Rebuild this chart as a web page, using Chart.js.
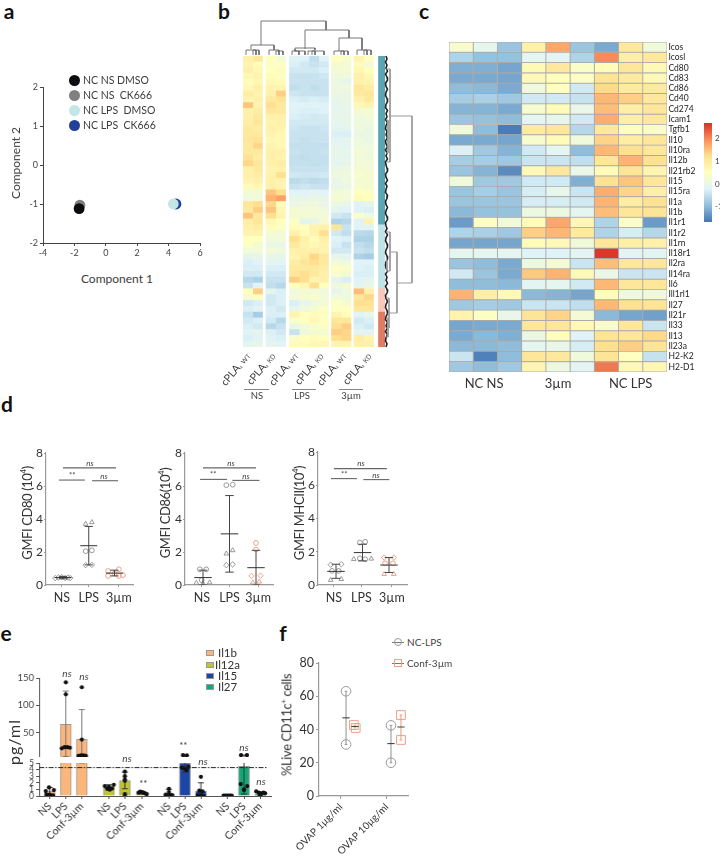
<!DOCTYPE html>
<html><head><meta charset="utf-8">
<style>
html,body{margin:0;padding:0;background:#fff;width:720px;height:857px;overflow:hidden}
#page{position:relative;width:720px;height:857px;overflow:hidden;font-family:Lato,"Open Sans",sans-serif;color:#3c3c3c;background:#fff;filter:blur(.35px)}
canvas{position:absolute;display:block}
.t{position:absolute;white-space:nowrap;line-height:1}
.s{font-size:62%}
</style>
<script src="https://cdn.jsdelivr.net/npm/chart.js@4/dist/chart.umd.min.js"></script>
</head><body><div id="page"></div>
<script>
/* ---------- DATA ---------- */
// panel a
const pcaLabels=['NC NS DMSO','NC NS  CK666','NC LPS  DMSO','NC LPS  CK666'];
const pcaColors=['#0b0b10','#808080','#c4e6e6','#22409a'];
const pcaX=[-1.7,-1.65,4.3,4.47];
const pcaY=[-1.12,-1.03,-1.0,-1.0];
// panel b : 12 sample columns per row (NS WT x2, NS KD x2, LPS x4, 3um WT x2, 3um KD x2)
const bRows=[
[1.0,1.3,.6,.2,-.3,-.35,-.7,-.3,.6,.4,.9,.5],
[.9,.7,.5,.5,-.4,-.5,-.6,-.5,.3,.2,.7,.2],
[1.0,.8,.6,.7,-.5,-.5,-.5,-.4,.2,.3,.8,.6],
[.8,.9,.7,.5,-.6,-.6,-.6,-.55,.1,.1,1.0,.8],
[.7,.8,.8,.7,-.6,-.6,-.6,-.6,.0,-.1,1.0,.9],
[.8,1.0,.9,.9,-.7,-.6,-.7,-.6,.05,.1,1.3,1.1],
[1.1,.9,1.0,1.7,-.55,-.6,-.6,-.6,.0,.0,1.2,1.3],
[.9,1.0,1.2,1.4,-.4,-.45,-.4,-.45,-.1,.0,1.0,1.2],
[1.8,.9,1.5,1.2,-.3,-.35,-.3,-.35,-.2,-.1,.8,.9],
[1.0,1.1,1.3,1.2,-.35,-.4,-.4,-.35,-.15,-.1,.3,.3],
[1.0,1.2,1.0,1.0,-.4,-.45,-.5,-.45,-.1,-.1,.1,.2],
[1.1,1.3,.9,1.0,-.5,-.5,-.5,-.5,-.15,-.1,.1,.1],
[1.2,1.1,1.0,.9,-.55,-.6,-.6,-.55,-.2,-.2,.1,.0],
[1.2,1.2,.9,.8,-.6,-.6,-.6,-.6,-.4,-.4,.0,.0],
[1.3,1.4,.8,.8,-.6,-.65,-.6,-.6,-.25,-.2,.1,.0],
[1.2,1.6,.9,.8,-.65,-.65,-.65,-.65,-.15,-.2,.1,.1],
[1.2,1.2,1.0,1.0,-.6,-.65,-.65,-.6,-.1,-.15,.2,.1],
[1.4,1.1,1.0,.9,-.65,-.7,-.65,-.65,-.15,-.15,.2,.15],
[1.6,1.3,1.0,1.1,-.65,-.65,-.7,-.65,-.15,-.1,.2,.2],
[1.0,1.2,.9,1.0,-.6,-.6,-.6,-.6,.0,.05,.3,.2],
[1.0,1.1,1.0,1.5,-.5,-.55,-.55,-.5,.1,.1,.4,.3],
[.9,1.0,1.0,.9,-.75,-.7,-.75,-.7,-.1,.1,.3,.3],
[.7,.8,1.0,.9,-.6,-.55,-.6,-.6,-.1,.0,.35,.3],
[.2,.2,1.8,1.5,-.3,-.3,-.25,-.3,.2,.2,.6,.5],
[.1,.2,2.0,2.2,-.1,-.1,.0,-.1,.3,.2,.7,.6],
[1.3,1.5,1.6,.7,.0,.1,.1,.0,.0,-.1,-.3,-.2],
[1.2,1.7,1.8,.8,.3,.2,.2,.1,-.2,-.3,-.35,-.4],
[1.8,1.2,1.5,.9,.3,.3,.2,.2,-.5,-.6,.4,.1],
[1.1,1.3,.8,.6,.5,-.2,-.1,.3,-.9,-.8,-.3,.9],
[1.0,1.1,.7,.5,.7,.6,.9,1.0,1.3,-.6,-.3,-.3],
[.9,.9,.3,.2,1.0,.7,.9,1.5,-.5,-.7,-.75,-.8],
[.6,.6,.1,.2,1.5,1.0,.7,1.0,-.3,-.4,-.9,-.9],
[.5,.3,.0,-.1,1.2,.9,.8,.9,-.4,-.6,-.7,-.8],
[.2,.2,.2,.1,1.0,1.0,1.0,.9,-.5,-.5,-.6,-.7],
[-.2,-.1,-.1,-.1,.9,1.1,1.6,1.2,-.1,-.2,-.9,-1.0],
[-.4,-.3,-.2,-.3,1.1,1.3,1.5,1.2,.2,.1,-.3,-.3],
[-.4,-.4,-.4,-.4,1.2,1.2,1.2,1.1,.5,.4,-.35,-.4],
[-.5,-.5,-.5,-.5,1.3,1.5,1.2,1.0,.4,.3,-.4,-.4],
[-.8,-.9,-.6,-.6,1.7,1.5,.9,1.0,-.2,-.4,-.3,-.2],
[-.6,-.3,-.7,-.8,.6,.8,1.5,.6,.1,.3,-.2,.0],
[.6,1.7,-.2,-.4,.1,.3,.2,.1,-.1,.1,1.9,1.0],
[.3,.5,-.5,-.4,.2,.3,.4,.2,.2,.1,1.3,1.6],
[-.5,-.4,-.5,-.4,-.4,-.1,.1,.2,.5,.3,1.5,1.4],
[-.4,-.3,-.4,-.5,-.1,.1,.3,.5,.5,.6,1.3,1.3],
[-.6,-1.0,-.4,-.4,.9,.6,.7,.5,.9,.7,-.3,-.1],
[-.5,-.4,-.5,-.8,.4,.6,.8,.6,1.3,1.3,-.5,-.4],
[-.4,-.5,-.8,-.6,.0,.2,.4,.5,1.5,1.7,-.4,-.5],
[-.3,-.2,-.4,-.5,-.6,.1,.3,.3,1.7,1.6,-.2,-.3],
[-.4,-.3,-.3,-.4,.4,.6,.7,.6,1.5,1.6,1.1,.9],
[-.2,-.1,-.2,-.3,.7,.7,.8,.8,.9,.9,1.0,1.0]];
const bClusterSizes=[29,11,4,6];
const bClusterColors=['#5ba6b4','#bfe3e6','#f8c9b8','#e07c62'];
const bColLabels=['WT','KD','WT','KD','WT','KD'];
const bGroupLabels=['NS','LPS','3µm'];
// panel b dendrograms, in page units
const colTree=[
[[261,45],[261,21],[326,21],[326,30]],
[[251,49],[251,45],[274,45],[274,50]],
[[246,55],[246,50],[256,50],[256,55]],
[[253,55],[253,50],[259,50],[259,55]],
[[269,55],[269,50],[279,50],[279,55]],
[[276,55],[276,51],[283,51],[283,55]],
[[305,49],[305,30],[349,30],[349,38]],
[[295,49],[295,48],[315,48],[315,50]],
[[292,55],[292,51],[299,51],[299,55]],
[[295,49],[295,51],[305,51],[305,55]],
[[308,55],[308,51],[315,51],[315,55]],
[[312,55],[312,51],[324,51],[324,55]],
[[339,51],[339,38],[362,38],[362,50]],
[[334,55],[334,51],[344,51],[344,55]],
[[341,55],[341,51],[348,51],[348,55]],
[[357,55],[357,50],[367,50],[367,55]],
[[364,55],[364,50],[371,50],[371,55]]];
const rowTree=[
[[390,116],[412,116],[412,283],[397,283]],
[[390,252],[397,252],[397,313],[389,313]],
[[386,69],[390,69],[390,162],[386,162]],
[[386,232],[390,232],[390,271],[386,271]],
[[386,298],[389,298],[389,328],[386,328]],
[[386,120],[388,120],[388,153],[386,153]],
[[386,260],[387,260],[387,271],[386,271]],
[[386,318],[388,318],[388,337],[386,337]]];
const rowLeaves=[386,387,385.5,387,386,387.5,385.5,387,387.5,385.5,386,387.5,386,385.5,387,387.5,386,385.5,387.5,386,387,385.5,387.5,386,385.5,387,386,387.5,385.5,386,387.5,385.5,387,386,387.5,385.5,386,387,387.5,385.5,386,387.5,385.5,387,386,385.5,387.5,387,385.5,386,387.5,386,385.5,387,387.5,385.5,386,387,385.5,387.5,386,385.5,387,387.5,386,385.5,387,387.5,386,385.5,386,387.5,385.5,387,386,387.5,385.5,387,387.5,385.5,386,387.5,386,385.5,387,387.5,386,385.5,387.5,386,387,385.5,387.5,386,385.5,387,386];
// panel c
const geneLabels=['Icos','Icosl','Cd80','Cd83','Cd86','Cd40','Cd274','Icam1','Tgfb1','Il10','Il10ra','Il12b','Il21rb2','Il15','Il15ra','Il1a','Il1b','Il1r1','Il1r2','Il1rn','Il18r1','Il2ra','Il14ra','Il6','Ill1rl1','Il27','Il21r','Il33','Il13','Il23a','H2-K2','H2-D1'];
const cGroupLabels=['NC NS','3µm','NC LPS'];
const geneValues=[
[.3,-.1,-.9,.8,1.7,-.9,-1.2,1.0,.15],
[-.7,-.95,-.95,-.15,-.2,-.7,1.95,.85,1.0],
[-1.15,-1.15,-1.25,.6,1.0,.35,.55,1.05,.6],
[-1.2,-1.2,-1.25,.6,.5,.4,1.1,.95,.6],
[-1,-1.05,-1.2,.1,.45,-.4,1.25,.95,.95],
[-.8,-.75,-.85,-.4,-.4,-.5,1.55,1.35,1.0],
[-1.1,-1.1,-1.2,.25,.55,-.05,1.5,.85,1.05],
[-.9,-.95,-1,-.15,-.1,-.4,1.65,.85,1.0],
[.15,-1.0,-1.65,.95,1.05,-.65,1.0,.4,.35],
[-1.2,-1.2,-1.25,.3,.55,.1,1.3,.9,1.05],
[-.3,-.85,-1.1,-.4,-.15,-1.0,1.55,1.2,1.05],
[-.8,-.8,-.85,-.45,-.45,-.55,1.05,1.6,1.15],
[-.9,-1.1,-1.5,.6,1.0,-.05,.55,1.1,.7],
[.1,-.85,-.85,-.4,-.4,-1.15,1.15,1.45,1.05],
[-.9,-.8,-.9,-.35,-.1,-.45,1.65,1.3,.85],
[-.9,-.9,-.9,-.35,-.35,-.4,1.6,.9,1.15],
[-1.05,-.95,-.95,.05,.05,-.15,1.5,1.05,1.1],
[-1.35,.4,.15,.55,1.7,.65,-.7,.35,-1.35],
[-.7,-.75,-.85,1.35,1.55,.95,-.7,-.35,-.65],
[-1.25,-1.25,-1.25,.55,.6,.15,1.05,.85,.8],
[-.15,-.15,-.15,-.25,-.25,-.2,2.6,-.2,-.2],
[-.9,-1.0,-1.2,.05,.2,-.45,1.5,1.05,1.05],
[-.4,-.9,-1.2,1.4,1.6,.6,.0,-.45,-.45],
[-1,-1,-1.05,-.2,-.15,-.4,1.55,1.05,1.05],
[1.6,.85,.6,-1.05,-1.1,-1.25,.5,.1,.15],
[-.85,-.8,-.85,-.45,-.45,-.55,1.55,1.15,1.1],
[.75,.4,-.05,1.1,1.3,.2,-1.05,-1.25,-1.3],
[-1.25,-1.2,-1.2,1.05,1.05,.6,.3,1.05,-.45],
[-1.2,-1.05,-1.15,.0,.5,-.25,1.1,1.05,1.25],
[-1.05,-1.05,-1,-.15,-.05,-.35,1.2,1.35,1.1],
[-.45,-1.6,-1,1.05,1.0,.1,1.1,.45,-.5],
[-.85,-1.0,-.85,.7,.05,-.2,2.1,.6,.65]];
const colorbarTicks=[2,1,0,-1];
// panel d : [position, value, marker]
const dLabels=['NS','LPS','3µm'];
const cd80Points=[[-.3,.42,'d'],[-.18,.45,'d'],[-.05,.48,'d'],[.08,.42,'d'],[.2,.45,'d'],[.28,.42,'d'],
[.88,3.7,'t'],[1.12,3.8,'t'],[.88,2.05,'c'],[1.12,2.1,'c'],[.88,1.2,'d'],[1.12,1.22,'d'],
[1.75,.85,'c'],[2.17,.95,'c'],[2,.7,'c'],[1.75,.55,'c'],[2.17,.55,'c'],[2.33,.6,'c']];
const cd80Stats=[[.45,.38,.52],[2.38,1.22,3.55],[.72,.55,.9]];
const cd86Points=[[-.12,.95,'c'],[.12,.95,'c'],[-.05,.3,'c'],[-.25,.12,'t'],[0,.1,'t'],[.25,.15,'t'],
[.88,6.05,'c'],[1.12,6.08,'c'],[.88,1.9,'t'],[1.12,2.1,'t'],[.88,1.2,'d'],[1.12,1.25,'d'],
[2,2.55,'c'],[2,2.15,'c'],[1.83,.55,'d'],[2.17,.57,'d'],[1.88,.15,'t'],[2.12,.2,'t']];
const cd86Stats=[[.45,0,.9],[3.1,.78,5.42],[1.05,0,2.1]];
const mhcPoints=[[-.2,1.22,'d'],[.2,1.25,'d'],[-.15,.85,'c'],[.1,.85,'c'],[-.2,.3,'t'],[.2,.35,'t'],
[.9,2.55,'c'],[1.1,2.6,'c'],[.67,1.55,'t'],[1.33,1.58,'t'],[.9,1.6,'c'],[1.1,1.55,'c'],
[1.82,1.65,'d'],[2.18,1.65,'d'],[1.85,1.3,'c'],[2.15,1.3,'c'],[1.82,.65,'t'],[2.18,.65,'t']];
const mhcStats=[[.82,.4,1.25],[1.95,1.45,2.45],[1.2,.75,1.65]];
const sigText=['**','ns','ns'];
// panel e
const barLabels=['NS','LPS','Conf-3µm'];
const cytokines=['Il1b','Il12a','Il15','Il27'];
const cytoColors=['#fbb67c','#bfc62e','#1c46a6','#14a878'];
const il1bBars=[.75,65,38];
const il12aBars=[1.25,2.35,.5];
const il15Bars=[.25,5,.75];
const il27Bars=[.05,4.5,.3];
const il1bErr=[[.1,1.3],[6,126],[5,92]];
const il12aErr=[[.9,1.7],[1.1,3.6],[.3,.7]];
const il15Err=[[0,1],[3.6,8],[0,2]];
const il27Err=[[0,.1],[.3,8.5],[.05,.6]];
const il1bDots=[[[-.05,1.3],[-.25,.75],[.25,.9],[-.2,.2],[0,.2],[.2,.1]],[[0,142],[0,120],[-.25,21],[-.08,23],[.1,23],[.25,22]],[[0,133],[0,37],[-.2,7],[-.05,8],[.1,8],[.25,7]]];
const il12aDots=[[[-.25,1.5],[-.1,1.1],[.05,.95],[.2,1.15],[.3,1.7],[0,1.4]],[[0,3.7],[0,3],[0,2.5],[0,2.3],[0,.3],[0,0]],[[-.2,.5],[-.1,.65],[0,.6],[.1,.5],[.2,.4],[.3,.3]]];
const il15Dots=[[[0,1.1],[0,.6],[-.2,.2],[.05,.2],[.2,.15],[-.1,.1]],[[-.12,8.5],[.12,8],[-.2,4.3],[-.05,4.2],[.1,3.9],[.22,4.4]],[[0,2.9],[-.1,.8],[.1,.7],[-.2,.1],[0,.1],[.2,0]]];
const il27Dots=[[[-.25,.05],[-.15,.05],[-.05,.05],[.05,.05],[.15,.05],[.25,.05]],[[-.18,8.5],[.18,8.5],[-.2,1.8],[.2,1.5],[0,1.0],[0,.9]],[[-.25,.7],[-.1,.5],[.05,.4],[.2,.5],[.3,.4],[0,.2]]];
const thresholdLine=4.3;
const upperAxisTicks=[5,50,100,150];
// panel f
const ovapLabels=['OVAP 1µg/ml','OVAP 10µg/ml'];
const ncLpsPoints=[[.11,63],[.11,31],[1.087,42.5],[1.087,20]];
const ncLpsStats=[[.11,47,31,63],[1.087,31.5,20,42.5]];
const confPoints=[[.28,42.7],[.32,40.9],[1.304,48.7],[1.304,33.7]];
const confStats=[[.304,41.8,40.9,42.7],[1.304,41.5,33.7,48.7]];

/* ---------- HELPERS ---------- */
Chart.defaults.font.family='Lato,"Open Sans",sans-serif';
Chart.defaults.color='#444';
const page=document.getElementById('page');
const heatStops=['#4575b4','#91bfdb','#e0f3f8','#ffffbf','#fee090','#fc8d59','#d73027'];
const H_MIN=-1.72,H_MAX=2.66;
function hex(c){return [1,3,5].map(i=>parseInt(c.substr(i,2),16));}
function heat(v){
  const t=Math.max(0,Math.min(.9999,(v-H_MIN)/(H_MAX-H_MIN)))*(heatStops.length-1);
  const i=Math.floor(t),f=t-i,a=hex(heatStops[i]),b=hex(heatStops[i+1]);
  return 'rgb('+a.map((x,k)=>Math.round(x+(b[k]-x)*f)).join(',')+')';
}
function label(html,x,y,o={}){
  const d=document.createElement('div');d.className='t';d.innerHTML=html;
  const ax=o.anchor==='left'?'0%':o.anchor==='right'?'-100%':'-50%';
  d.style.cssText+=`left:${x}px;top:${y}px;font-size:${o.size||11}px;color:${o.color||'#3c3c3c'};font-style:${o.italic?'italic':'normal'};font-weight:${o.bold?700:400};`+
   `transform-origin:${o.anchor==='right'?'100% 50%':o.anchor==='left'?'0% 50%':'50% 50%'};transform:translate(${ax},-50%) rotate(${o.rot||0}deg);`+(o.spacing?`letter-spacing:${o.spacing}px;`:'');
  page.appendChild(d);return d;
}
function mount(p,m){
  const c=document.createElement('canvas');
  const w=p.r-p.l+m.l+m.r,h=p.b-p.t+m.t+m.b;
  c.width=w;c.height=h;c.style.left=(p.l-m.l)+'px';c.style.top=(p.t-m.t)+'px';c.style.width=w+'px';c.style.height=h+'px';
  page.appendChild(c);return c.getContext('2d');
}
function baseOptions(m,scales,yRight){
  return {responsive:false,animation:false,devicePixelRatio:1,events:[],
    layout:{autoPadding:false,padding:{top:m.t,left:0,right:yRight?0:m.r,bottom:0}},
    plugins:{legend:{display:false},tooltip:{enabled:false}},scales};
}
function noPad(s){s.paddingTop=0;s.paddingBottom=0;s.paddingLeft=0;s.paddingRight=0;}
function line(points,color,width,extra){
  return Object.assign({type:'scatter',data:points.map(p=>({x:p[0],y:p[1]})),showLine:true,pointRadius:0,borderColor:color,borderWidth:width,fill:false,tension:0},extra||{});
}
function axisY(m,o){
  return Object.assign({type:'linear',afterFit:s=>{s.width=m.l;noPad(s)},
    grid:{display:true,drawOnChartArea:false,drawTicks:true,tickLength:o.tick||3,color:o.color,lineWidth:1},
    border:{display:true,color:o.color,width:o.width||1},
    ticks:Object.assign({font:{size:o.size},color:o.text||'#444',padding:o.pad==null?2:o.pad,maxTicksLimit:20,autoSkip:false,stepSize:o.step},o.callback?{callback:o.callback}:{})},o.scale);
}
function axisX(m,o){
  const s={type:'linear',offset:false,afterFit:a=>{a.height=m.b;noPad(a)},
    grid:{display:true,offset:false,drawOnChartArea:false,drawTicks:true,tickLength:o.tick||3,color:o.color,lineWidth:1},
    border:{display:true,color:o.color,width:o.width||1},
    ticks:{font:{size:o.size},color:o.text||'#444',padding:o.pad==null?2:o.pad,autoSkip:false,minRotation:o.rot||0,maxRotation:o.rot||0}};
  if(o.at){s.afterBuildTicks=a=>{a.ticks=o.at.map(v=>({value:v}))};s.ticks.callback=(v,i)=>o.labels?o.labels[i]:v;}
  else if(o.step){s.ticks.stepSize=o.step;}
  return Object.assign(s,o.scale);
}

/* ---------- PANEL LETTERS ---------- */
[['a',9,10],['b',224,10],['c',424,10],['d',7,403],['e',6,632],['f',283,632]].forEach(l=>label(l[0],l[1],l[2],{size:21,bold:true,color:'#111'}));

/* ---------- PANEL A ---------- */
(function(){
  const m={l:26,t:8,r:10,b:18},p={l:43,t:87,r:200,b:243};
  new Chart(mount(p,m),{type:'scatter',data:{datasets:pcaLabels.map((n,i)=>({label:n,data:[{x:pcaX[i],y:pcaY[i]}],backgroundColor:pcaColors[i],borderColor:pcaColors[i],pointRadius:5.4,borderWidth:0}))},
   options:baseOptions(m,{x:axisX(m,{size:9,color:'#444',step:2,scale:{min:-4,max:6}}),y:axisY(m,{size:9,color:'#444',step:1,scale:{min:-2,max:2}})})});
  pcaLabels.forEach((n,i)=>{
    const d=document.createElement('div');
    d.style.cssText=`position:absolute;left:69px;top:${74.5+i*15}px;width:11px;height:11px;border-radius:50%;background:${pcaColors[i]}`;
    page.appendChild(d);
    label(n.replace(/  /g,'&nbsp;&nbsp;'),83,80+i*15,{anchor:'left',size:10.5});
  });
  label('Component 1',117,279,{size:12});
  label('Component 2',16,163,{size:12,rot:-90});
})();

/* ---------- PANEL B ---------- */
(function(){
  const p={l:243,t:56,r:385,b:347},m={l:0,t:0,r:0,b:0};
  const w=9.75,gaps={2:3.5,4:4,8:3,10:3};
  const rowsIdx=bRows.map((r,i)=>i);
  const ds=[];
  for(let c=0;c<12;c++){
    if(gaps[c])ds.push({data:rowsIdx.map(()=>gaps[c]),backgroundColor:'rgba(0,0,0,0)'});
    ds.push({data:bRows.map(()=>w),backgroundColor:bRows.map(r=>heat(r[c]*.8))});
  }
  ds.push({data:rowsIdx.map(()=>5),backgroundColor:'rgba(0,0,0,0)'});
  const cl=[];bClusterSizes.forEach((n,i)=>{for(let k=0;k<n;k++)cl.push(bClusterColors[i]);});
  ds.push({data:rowsIdx.map(()=>7),backgroundColor:cl});
  ds.forEach(d=>{d.barPercentage=1;d.categoryPercentage=1;d.borderWidth=0;});
  new Chart(mount(p,m),{type:'bar',data:{labels:rowsIdx,datasets:ds},options:Object.assign(baseOptions(m,{
    x:{type:'linear',display:false,stacked:true,offset:false,min:0,max:142},
    y:{type:'category',display:false,stacked:true}}),{indexAxis:'y'})});
  // dendrograms
  const q={l:240,t:15,r:416,b:350},z={l:0,t:0,r:0,b:0};
  const tr=[];
  colTree.forEach(s=>tr.push(line(s,'#666',.9)));
  rowTree.forEach(s=>tr.push(line(s,'#999',1)));
  tr[0].borderColor='#666';
  tr.push(line(rowLeaves.map((x,i)=>[x,56+i*3.03]),'#222',1.6));
  new Chart(mount(q,z),{type:'scatter',data:{datasets:tr},options:baseOptions(z,{
    x:{type:'linear',display:false,min:q.l,max:q.r},
    y:{type:'linear',display:false,min:q.t,max:q.b,reverse:true}})});
  const ends=[247,272,295,320,343,368];
  bColLabels.forEach((t,i)=>label('cPLA<span class="s">₂</span> <span class="s">'+t+'</span>',ends[i]+1,354,{anchor:'right',rot:-50,size:10.5}));
  const lines=[[244,269],[292,316],[339,363]],cx=[257,302,351];
  bGroupLabels.forEach((t,i)=>{
    const d=document.createElement('div');
    d.style.cssText=`position:absolute;left:${lines[i][0]}px;top:388.5px;width:${lines[i][1]-lines[i][0]}px;height:1px;background:#888`;
    page.appendChild(d);
    label(t,cx[i],395.5,{size:9.5});
  });
})();

/* ---------- PANEL C ---------- */
(function(){
  const p={l:449,t:42,r:667,b:372},m={l:50,t:0,r:0,b:30};
  const cols=[0,1,2,3,4,5,6,7,8].map(c=>({data:geneValues.map(()=>1),backgroundColor:geneValues.map(r=>heat(r[c])),borderColor:'#aaa',borderWidth:.8,borderSkipped:false,barPercentage:1,categoryPercentage:1}));
  const ctx=mount(p,{l:0,t:0,r:50,b:30});
  new Chart(ctx,{type:'bar',data:{labels:geneLabels,datasets:cols},options:Object.assign(baseOptions(m,{
    x:{type:'linear',stacked:true,offset:false,min:0,max:9,position:'bottom',afterFit:a=>{a.height=m.b;noPad(a)},grid:{display:false,drawTicks:false},border:{display:false},
       afterBuildTicks:a=>{a.ticks=[1.45,4.5,7.5].map(v=>({value:v}))},
       ticks:{autoSkip:false,maxRotation:0,minRotation:0,padding:4,font:{size:13},color:'#333',callback:(v,i)=>cGroupLabels[i]}},
    y:{type:'category',stacked:true,position:'right',afterFit:a=>{a.width=m.l;noPad(a)},grid:{display:false,drawTicks:false},border:{display:false},
       ticks:{autoSkip:false,padding:1.5,font:{size:8.5},color:'#222'}}},true),{indexAxis:'y'})});
  // colour key
  const key=document.createElement('div');
  const stops=heatStops.slice().reverse().join(',');
  key.style.cssText=`position:absolute;left:704px;top:123px;width:8px;height:99px;background:linear-gradient(to bottom,${stops})`;
  page.appendChild(key);
  colorbarTicks.forEach(v=>label(String(v),715,183.5-v*22.7,{anchor:'left',size:8}));
})();

/* ---------- PANEL D ---------- */
const markerMap={c:'circle',t:'triangle',d:'rectRot'};
function dChart(p,x0,unit,tickAt,pts,stats,title,titleX,brackets,texts){
  const m={l:18,t:8,r:8,b:24};
  const ds=[];
  const sets=[[0,6,'#8f8f8f'],[6,12,'#8f8f8f'],[12,18,'#ea9b80']];
  ds.push(...brackets.map(b=>line([[b[0],b[2]],[b[1],b[2]]],'#666',1.1)));
  stats.forEach((s,i)=>{
    ds.push(line([[i-.33,s[0]],[i+.33,s[0]]],'#333',1));
    ds.push(line([[i,s[1]],[i,s[2]]],'#444',1));
    ds.push(line([[i-.16,s[1]],[i+.16,s[1]]],'#444',1));
    ds.push(line([[i-.16,s[2]],[i+.16,s[2]]],'#444',1));
  });
  sets.forEach(g=>pts.slice(g[0],g[1]).forEach(q=>ds.push({type:'scatter',data:[{x:q[0],y:q[1]}],pointStyle:markerMap[q[2]],pointRadius:q[2]==='c'?2.4:2.7,pointBorderWidth:.9,borderColor:g[2],pointBorderColor:g[2],backgroundColor:'rgba(255,255,255,0)'})));
  new Chart(mount(p,m),{type:'scatter',data:{datasets:ds},options:baseOptions(m,{
    x:axisX(m,{size:12.5,color:'#999',at:tickAt,labels:dLabels,tick:2,pad:3,text:'#333',width:1.2,scale:{min:(p.l-x0)/unit,max:(p.r-x0)/unit}}),
    y:axisY(m,{size:12,color:'#999',step:2,tick:2,pad:1,text:'#333',width:1.2,scale:{min:0,max:8}})})});
  label(title,titleX,513,{size:13,rot:-90,color:'#333',spacing:-.4});
  texts.forEach((t,i)=>label(sigText[i],t[0],t[1],{size:8,italic:true,color:'#444'}));
}
dChart({l:46,t:453,r:133,b:585},63,25.75,[-.04,1,2.17],cd80Points,cd80Stats,'GMFI CD80 (10<sup style="font-size:60%">4</sup>)',27,
  [[-.16,.85,6.36],[1.13,2.14,6.32],[0,2.06,7.1]],[[72,475],[104,476],[90,463]]);
dChart({l:185,t:453,r:273,b:585},203,26.5,[-.04,1,2.08],cd86Points,cd86Stats,'GMFI CD86(10<sup style="font-size:60%">4</sup>)',165,
  [[-.11,.91,6.4],[1.11,2.13,6.34],[0,2,7.1]],[[213,474],[246,476],[231,463]]);
dChart({l:318,t:452,r:407,b:585},336,26.5,[-.08,.96,2.11],mhcPoints,mhcStats,'GMFI MHCII(10<sup style="font-size:60%">4</sup>)',299,
  [[-.19,.79,6.4],[1.03,2.01,6.34],[-.08,1.92,7.0]],[[344,474],[376,475],[361,463]]);

/* ---------- PANEL E ---------- */
(function(){
  const xPos=[0,.98,1.96,3.62,4.6,5.64,7.3,8.28,9.26,10.9,11.9,12.9];
  const bars=[...il1bBars,...il12aBars,...il15Bars,...il27Bars];
  const errs=[...il1bErr,...il12aErr,...il15Err,...il27Err];
  const dots=[...il1bDots,...il12aDots,...il15Dots,...il27Dots];
  const colors=[];cytoColors.forEach(c=>colors.push(c,c,c));
  const xl=xPos.map((v,i)=>barLabels[i%3]);
  const xMin=(39.3-50)/16.3,xMax=(271-50)/16.3;
  function datasets(lower){
    const ds=[];
    if(lower)ds.push(line([[xMin,thresholdLine],[13.3,thresholdLine]],'#222',1,{borderDash:[5,1.5,1.5,1.5]}));
    const dotData=[];dots.forEach((g,i)=>g.forEach(d=>{if(lower||d[1]>5)dotData.push({x:xPos[i]+d[0],y:d[1]});}));
    ds.push({type:'scatter',data:dotData,pointRadius:2.1,backgroundColor:'#111',borderColor:'#111',pointBorderWidth:0});
    errs.forEach((e,i)=>{
      if(!lower&&e[1]<=5)return;
      const c=i===1||i===2?'#777':'#333';
      ds.push(line([[xPos[i],e[0]],[xPos[i],e[1]]],c,1));
      ds.push(line([[xPos[i]-.18,e[0]],[xPos[i]+.18,e[0]]],c,1));
      ds.push(line([[xPos[i]-.18,e[1]],[xPos[i]+.18,e[1]]],c,1));
    });
    const idx=xPos.map((x,i)=>i).filter(i=>lower||bars[i]>5);
    ds.push({type:'bar',data:idx.map(i=>({x:xPos[i],y:bars[i]})),backgroundColor:idx.map(i=>colors[i]),borderColor:'#9a9a9a',borderWidth:1,barThickness:11,borderSkipped:'start'});
    return ds;
  }
  const mU={l:30,t:6,r:4,b:0},pU={l:39.3,t:678,r:271,b:757};
  new Chart(mount(pU,mU),{type:'bar',data:{datasets:datasets(false)},options:baseOptions(mU,{
    x:{type:'linear',display:false,offset:false,min:xMin,max:xMax},
    y:axisY(mU,{size:9.5,color:'#555',tick:3,text:'#444',callback:v=>v===5?'':v,scale:{min:5,max:150,afterBuildTicks:a=>{a.ticks=upperAxisTicks.map(v=>({value:v}))}}})})});
  const mL={l:30,t:4,r:4,b:60},pL={l:39.3,t:763,r:271,b:796};
  new Chart(mount(pL,mL),{type:'bar',data:{datasets:datasets(true)},options:baseOptions(mL,{
    x:axisX(mL,{size:10.5,color:'#555',at:xPos,labels:xl,rot:45,tick:3,pad:1,text:'#333',scale:{min:xMin,max:xMax}}),
    y:axisY(mL,{size:8.5,color:'#555',step:1,tick:3,text:'#444',scale:{min:0,max:5}})})});
  label('pg/ml',14,742,{size:16,rot:-90,color:'#333',spacing:1});
  [['ns',67,673],['ns',84,676],['ns',127,758],['**',143,783],['**',183,745],['ns',203,761],['ns',244,747],['ns',261,781]].forEach(t=>label(t[0],t[1],t[2],{size:10,italic:true,color:'#444'}));
  const ly=[653,664.5,676,687],lx=[218,215,218,218];
  cytokines.forEach((c,i)=>{
    const d=document.createElement('div');
    d.style.cssText=`position:absolute;box-sizing:border-box;left:206px;top:${ly[i]-3}px;width:8px;height:6px;background:${cytoColors[i]};border:1px solid #999`;
    page.appendChild(d);
    label(c,lx[i],ly[i],{anchor:'left',size:11.5,color:'#333'});
  });
})();

/* ---------- PANEL F ---------- */
(function(){
  const m={l:28,t:8,r:8,b:70},p={l:319,t:663,r:408,b:796};
  const ds=[];
  const statSets=[[ncLpsStats,'#333','#999'],[confStats,'#444','#ef9f88']];
  statSets.forEach(g=>g[0].forEach(s=>{
    ds.push(line([[s[0]-.08,s[1]],[s[0]+.08,s[1]]],g[1],1));
    ds.push(line([[s[0],s[2]],[s[0],s[3]]],g[2],1.1));
    ds.push(line([[s[0]-.03,s[2]],[s[0]+.03,s[2]]],g[2],1));
    ds.push(line([[s[0]-.03,s[3]],[s[0]+.03,s[3]]],g[2],1));
  }));
  ds.push({type:'scatter',data:ncLpsPoints.map(q=>({x:q[0],y:q[1]})),pointStyle:'circle',pointRadius:4.8,pointBorderWidth:1,borderColor:'#999',backgroundColor:'rgba(255,255,255,0)'});
  ds.push({type:'scatter',data:confPoints.map(q=>({x:q[0],y:q[1]})),pointStyle:'rect',pointRadius:6.2,pointBorderWidth:1,borderColor:'#ef9f88',backgroundColor:'rgba(255,255,255,0)'});
  new Chart(mount(p,m),{type:'scatter',data:{datasets:ds},options:baseOptions(m,{
    x:axisX(m,{size:10,color:'#999',at:[0,1],labels:ovapLabels,rot:45,tick:3,pad:2,text:'#333',width:1.2,scale:{min:-.478,max:1.457}}),
    y:axisY(m,{size:12.5,color:'#999',step:20,tick:3,pad:2,text:'#333',width:1.2,scale:{min:0,max:80}})})});
  label('%Live CD11c<sup style="font-size:60%">+</sup> cells',287,725,{size:13,rot:-90,color:'#333',spacing:-.4});
  function key(y,st,t){
    const l=document.createElement('div');
    l.style.cssText=`position:absolute;left:392px;top:${y}px;width:12px;height:1px;background:#777`;
    page.appendChild(l);
    const d=document.createElement('div');
    d.style.cssText=`position:absolute;box-sizing:border-box;left:394px;top:${y-4}px;width:8px;height:8px;${st}`;
    page.appendChild(d);
    label(t,407,y,{anchor:'left',size:10,color:'#444'});
  }
  key(642,'border:1px solid #999;border-radius:50%','NC-LPS');
  key(663,'border:1px solid #ef9f88','Conf-3µm');
})();
</script></body></html>
